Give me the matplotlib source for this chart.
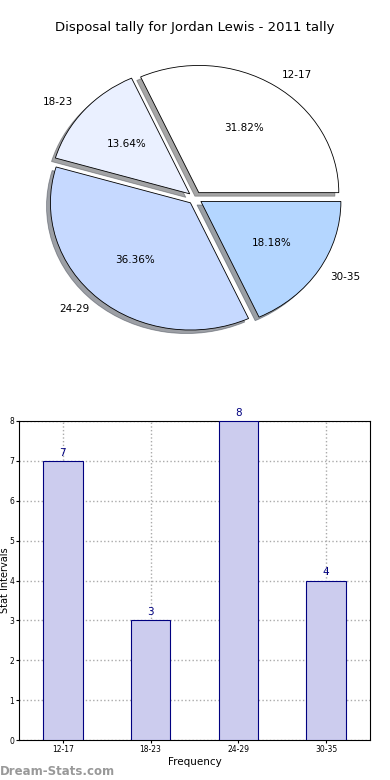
import matplotlib
matplotlib.use("Agg")
import matplotlib.pyplot as plt

categories = ["12-17", "18-23", "24-29", "30-35"]
counts = [7, 3, 8, 4]
pie_colors = ["#ffffff", "#eaf0ff", "#c6d9ff", "#b4d6ff"]

fig = plt.figure(figsize=(3.9, 7.8), dpi=100)

# pie, top half
ax1 = fig.add_axes([20 / 390, 1 - 357 / 780, 350 / 390, 318 / 780])
wedges, texts, autotexts = ax1.pie(
    counts, labels=categories, colors=pie_colors, autopct="%1.2f%%",
    explode=[0.05] * 4, shadow=True, startangle=0, counterclock=True,
    wedgeprops=dict(edgecolor="black", linewidth=0.6),
    textprops=dict(fontsize=7.5))
ax1.set_aspect("auto")
ax1.set_xlim(-1.25, 1.25)
ax1.set_ylim(-1.25, 1.25)
ax1.set_title("Disposal tally for Jordan Lewis - 2011 tally", fontsize=9.5)

# bars, bottom half
ax2 = fig.add_axes([19 / 390, 40 / 780, 351 / 390, 319 / 780])
x = range(len(categories))
bars = ax2.bar(x, counts, width=0.45, color="#ccccee", edgecolor="#000080",
               linewidth=0.8, zorder=3)
for xi, c in zip(x, counts):
    ax2.text(xi, c + 0.08, str(c), ha="center", va="bottom",
             color="#000080", fontsize=7.5)
ax2.set_xlim(-0.5, 3.5)
ax2.set_ylim(0, 8)
ax2.set_xticks(list(x))
ax2.set_xticklabels(categories)
ax2.set_yticks(range(9))
ax2.tick_params(labelsize=5.5, length=2, pad=1.5)
ax2.grid(True, linestyle=":", color="#aaaaaa", linewidth=1, zorder=0)
ax2.set_xlabel("Frequency", fontsize=7.5, labelpad=2)
ax2.set_ylabel("Stat Intervals", fontsize=7)
ax2.yaxis.set_label_coords(-0.026, 0.5)

fig.text(0.0, 0.003, "Dream-Stats.com", color="#999999", fontsize=8.5,
         fontweight="bold", ha="left", va="bottom")

fig.savefig("out.png", dpi=100)
